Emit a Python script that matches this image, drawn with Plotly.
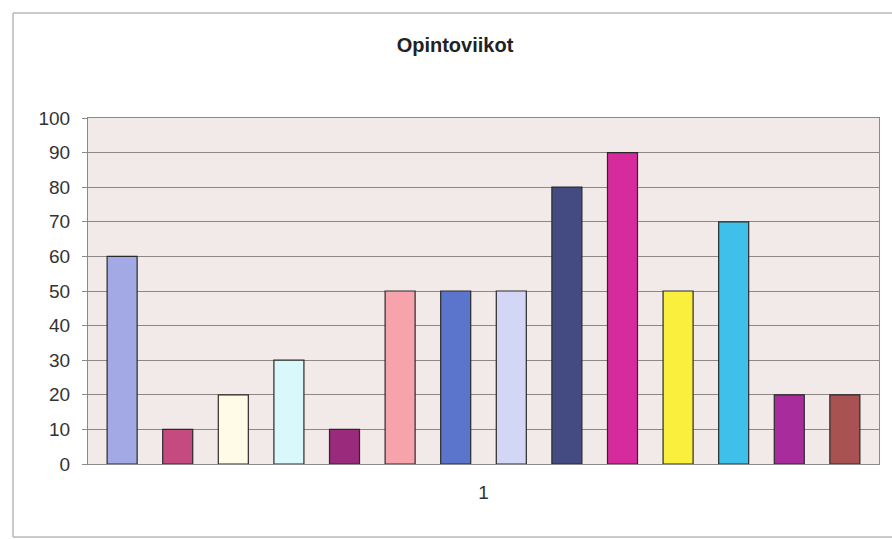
import plotly.graph_objects as go

# Opintoviikot per course, one category with 14 series
category = ["1"]
values = [60, 10, 20, 30, 10, 50, 50, 50, 80, 90, 50, 70, 20, 20]
colors = [
    "#a3a9e4", "#c44a80", "#fffbe6", "#d9f8fb", "#9a2a7c", "#f6a3ac", "#5b74cc",
    "#d3d6f4", "#444b82", "#d62b9c", "#f9ef3c", "#3fc0ea", "#a82c9c", "#a85252",
]
y_ticks = [0, 10, 20, 30, 40, 50, 60, 70, 80, 90, 100]

W, H = 892, 539
L, R, T, B = 88, 13, 118, 75

fig = go.Figure()
for i, (v, c) in enumerate(zip(values, colors)):
    fig.add_trace(go.Bar(
        x=category, y=[v], name=f"Sarja{i + 1}",
        marker=dict(color=c, line=dict(color="#2a2a2a", width=1.2)),
    ))

pw = W - L - R
ph = H - T - B

def px_to_paper_x(px):
    return (px - L) / pw

def px_to_paper_y(py):
    return (H - B - py) / ph

# chart-area frame: top, left and bottom edges (right edge runs off the page)
fx0, fx1 = px_to_paper_x(13), px_to_paper_x(892)
fy0, fy1 = px_to_paper_y(537), px_to_paper_y(13)
frame_line = dict(color="#b8b8b8", width=1.5)
frame = [
    dict(type="line", xref="paper", yref="paper", x0=fx0, x1=fx1, y0=fy1, y1=fy1, line=frame_line),
    dict(type="line", xref="paper", yref="paper", x0=fx0, x1=fx0, y0=fy0, y1=fy1, line=frame_line),
    dict(type="line", xref="paper", yref="paper", x0=fx0, x1=fx1, y0=fy0, y1=fy0, line=frame_line),
]

fig.update_layout(
    width=W, height=H,
    margin=dict(l=L, r=R, t=T, b=B),
    barmode="group",
    bargap=0.016,
    bargroupgap=0.46,
    showlegend=False,
    paper_bgcolor="#ffffff",
    plot_bgcolor="#f2eae8",
    font=dict(family="Liberation Sans, Arial, sans-serif", color="#333333"),
    title=dict(
        text="<b>Opintoviikot</b>",
        x=455 / W, xanchor="center",
        y=1 - 45 / H, yanchor="middle",
        font=dict(size=20, color="#222222"),
    ),
    xaxis=dict(
        type="category",
        showgrid=False, showline=True, linecolor="#8a8a8a", linewidth=1,
        mirror=True, ticks="", tickfont=dict(size=19, color="#333333"),
        ticklabelstandoff=11,
    ),
    yaxis=dict(
        range=[0, 100], tickvals=y_ticks, showgrid=True,
        gridcolor="#8c8886", gridwidth=1,
        showline=True, linecolor="#8a8a8a", linewidth=1, mirror=True,
        ticks="outside", ticklen=5, tickcolor="#8a8a8a",
        tickfont=dict(size=19, color="#333333"), zeroline=False,
        ticklabelstandoff=8,
    ),
    shapes=frame,
)

fig.write_html("out.html")
